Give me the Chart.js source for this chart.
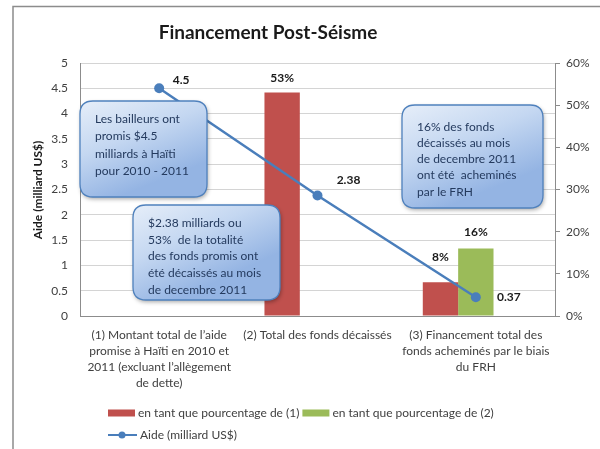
<!DOCTYPE html>
<html>
<head>
<meta charset="utf-8">
<script src="https://cdn.jsdelivr.net/npm/chart.js@4"></script>
<style>
  html, body { margin: 0; padding: 0; background: #fff; }
  #wrap { width: 600px; height: 449px; position: relative; }
</style>
</head>
<body>
<div id="wrap"><canvas id="chart" width="600" height="449"></canvas></div>
<script>
// ---- data ----
const categories = [
  ["(1) Montant total de l’aide", "promise à Haïti en 2010 et", "2011 (excluant l’allègement", "de dette)"],
  ["(2) Total des fonds décaissés"],
  ["(3) Financement total des", "fonds acheminés par le biais", "du FRH"]
];
const aideValues = [4.5, 2.38, 0.37];        // milliard US$
const pctOfPromised = [null, 53, 8];         // % de (1)
const pctOfDisbursed = [null, null, 16];     // % de (2)
const emptySlot = [null, null, null];        // third (empty) bar slot of the group
const aideTicks = { min: 0, max: 5, step: 0.5 };
const pctTicks = { min: 0, max: 60, step: 10 };

const seriesNames = ["en tant que pourcentage de (1)", "en tant que pourcentage de (2)", "Aide (milliard US$)"];
const chartTitle = "Financement Post-Séisme";
const yTitle = "Aide (milliard US$)";

const callouts = [
  ["Les bailleurs ont", "promis $4.5", "milliards à Haïti", "pour 2010 - 2011"],
  ["$2.38 milliards ou", "53%  de la totalité", "des fonds promis ont", "été décaissés au mois", "de decembre 2011"],
  ["16% des fonds", "décaissés au mois", "de decembre 2011", "ont été  acheminés", "par le FRH"]
];

const RED = "#c0504d", GREEN = "#9bbb59", BLUE = "#4a7ebb";
const FONT = "Lato, 'Open Sans', sans-serif";
const TXT = "#404040";

// ---- helpers ----
function roundRect(ctx, x, y, w, h, r) {
  ctx.beginPath();
  ctx.moveTo(x + r, y);
  ctx.lineTo(x + w - r, y);
  ctx.quadraticCurveTo(x + w, y, x + w, y + r);
  ctx.lineTo(x + w, y + h - r);
  ctx.quadraticCurveTo(x + w, y + h, x + w - r, y + h);
  ctx.lineTo(x + r, y + h);
  ctx.quadraticCurveTo(x, y + h, x, y + h - r);
  ctx.lineTo(x, y + r);
  ctx.quadraticCurveTo(x, y, x + r, y);
  ctx.closePath();
}

// ---- frame, title, axis title ----
const backdrop = {
  id: "backdrop",
  beforeDraw(chart) {
    const ctx = chart.ctx;
    ctx.save();
    ctx.fillStyle = "#fff";
    ctx.fillRect(0, 0, chart.width, chart.height);
    ctx.strokeStyle = "#8c8c8c";
    ctx.lineWidth = 1.5;
    ctx.beginPath();
    ctx.moveTo(13, chart.height);
    ctx.lineTo(13, 6.5);
    ctx.lineTo(chart.width, 6.5);
    ctx.stroke();
    ctx.restore();
  },
  afterDraw(chart) {
    const ctx = chart.ctx;
    ctx.save();
    ctx.fillStyle = "#1a1a1a";
    ctx.font = "bold 19px " + FONT;
    ctx.textAlign = "center";
    ctx.textBaseline = "middle";
    ctx.fillText(chartTitle, 268, 33);

    ctx.translate(38, 190);
    ctx.rotate(-Math.PI / 2);
    ctx.font = "bold 12px " + FONT;
    ctx.fillStyle = "#1a1a1a";
    ctx.fillText(yTitle, 0, 0);
    ctx.restore();
  }
};

// ---- value labels ----
const valueLabels = {
  id: "valueLabels",
  afterDatasetsDraw(chart) {
    const ctx = chart.ctx;
    ctx.save();
    ctx.font = "bold 12px " + FONT;
    ctx.fillStyle = "#1a1a1a";
    ctx.textAlign = "center";
    ctx.textBaseline = "middle";
    // bars
    const barOffsets = [[0, -14, -25], [0, 0, -16]];
    [1, 2].forEach((di, k) => {
      const meta = chart.getDatasetMeta(di);
      chart.data.datasets[di].data.forEach((v, i) => {
        if (v == null) return;
        const el = meta.data[i];
        ctx.fillText(v + "%", el.x, el.y + barOffsets[k][i]);
      });
    });
    // line points
    const lineOffsets = [[22, -8], [31, -15], [33, 0]];
    const meta = chart.getDatasetMeta(0);
    chart.data.datasets[0].data.forEach((v, i) => {
      const el = meta.data[i];
      ctx.fillText(String(v), el.x + lineOffsets[i][0], el.y + lineOffsets[i][1]);
    });
    ctx.restore();
  }
};

// ---- callout boxes ----
const calloutBoxes = {
  id: "calloutBoxes",
  afterDatasetsDraw(chart) {
    const ctx = chart.ctx;
    const boxes = [
      { x: 80, y: 101, w: 127, h: 96, tx: 95, ty: 119, lh: 17.5 },
      { x: 133, y: 205, w: 147, h: 95, tx: 148, ty: 223, lh: 16.8 },
      { x: 402, y: 105, w: 141, h: 103, tx: 417, ty: 127, lh: 16.2 }
    ];
    boxes.forEach((b, i) => {
      ctx.save();
      ctx.shadowColor = "rgba(0,0,0,0.35)";
      ctx.shadowBlur = 4;
      ctx.shadowOffsetX = 1;
      ctx.shadowOffsetY = 2;
      const g = ctx.createLinearGradient(b.x, b.y, b.x + b.w * 0.3, b.y + b.h);
      g.addColorStop(0, "#e6eef9");
      g.addColorStop(0.5, "#c4d7f1");
      g.addColorStop(1, "#94b4e3");
      roundRect(ctx, b.x, b.y, b.w, b.h, 13);
      ctx.fillStyle = g;
      ctx.fill();
      ctx.shadowColor = "transparent";
      ctx.strokeStyle = "#4f81bd";
      ctx.lineWidth = 1.3;
      ctx.stroke();
      ctx.fillStyle = "#243a5e";
      ctx.font = "12px " + FONT;
      ctx.textAlign = "left";
      ctx.textBaseline = "middle";
      callouts[i].forEach((line, j) => ctx.fillText(line, b.tx, b.ty + j * b.lh));
      ctx.restore();
    });
  }
};

// ---- legend ----
const legendBox = {
  id: "legendBox",
  afterDraw(chart) {
    const ctx = chart.ctx;
    const ds = chart.data.datasets;
    ctx.save();
    ctx.font = "12px " + FONT;
    ctx.fillStyle = TXT;
    ctx.textAlign = "left";
    ctx.textBaseline = "middle";
    let x = 108;
    const y1 = 413;
    [1, 2].forEach(di => {
      ctx.fillStyle = ds[di].backgroundColor;
      ctx.fillRect(x, y1 - 3.5, 27, 7);
      ctx.fillStyle = TXT;
      ctx.fillText(ds[di].label, x + 30, y1);
      x += 30 + ctx.measureText(ds[di].label).width + 3;
    });
    const y2 = 435;
    ctx.strokeStyle = ds[0].borderColor;
    ctx.lineWidth = 2;
    ctx.beginPath();
    ctx.moveTo(108, y2);
    ctx.lineTo(137, y2);
    ctx.stroke();
    ctx.fillStyle = ds[0].borderColor;
    ctx.beginPath();
    ctx.arc(122, y2, 3.5, 0, Math.PI * 2);
    ctx.fill();
    ctx.fillStyle = TXT;
    ctx.fillText(ds[0].label, 140, y2);
    ctx.restore();
  }
};

new Chart(document.getElementById("chart"), {
  type: "bar",
  data: {
    labels: categories,
    datasets: [
      {
        type: "line",
        label: seriesNames[2],
        data: aideValues,
        yAxisID: "y",
        borderColor: BLUE,
        backgroundColor: BLUE,
        borderWidth: 2.5,
        pointRadius: 5,
        pointBackgroundColor: BLUE,
        pointBorderWidth: 0,
        order: 0
      },
      {
        label: seriesNames[0],
        data: pctOfPromised,
        yAxisID: "y2",
        backgroundColor: RED,
        order: 1
      },
      {
        label: seriesNames[1],
        data: pctOfDisbursed,
        yAxisID: "y2",
        backgroundColor: GREEN,
        order: 1
      },
      {
        label: "",
        data: emptySlot,
        yAxisID: "y2",
        backgroundColor: "transparent",
        order: 1
      }
    ]
  },
  options: {
    responsive: false,
    animation: false,
    categoryPercentage: 0.67,
    barPercentage: 1,
    layout: { padding: { top: 63, left: 0, right: 0, bottom: 0 } },
    plugins: {
      legend: { display: false },
      tooltip: { enabled: false },
      title: { display: false }
    },
    scales: {
      x: {
        offset: true,
        grid: { display: false },
        border: { display: true, color: "#8c8c8c" },
        ticks: {
          color: TXT,
          font: { family: FONT, size: 12, lineHeight: 1.33 },
          padding: 3,
          maxRotation: 0,
          autoSkip: false
        },
        afterFit(scale) { scale.height = 133; }
      },
      y: {
        position: "left",
        min: aideTicks.min,
        max: aideTicks.max,
        ticks: {
          stepSize: aideTicks.step,
          color: TXT,
          font: { family: FONT, size: 12 },
          padding: 12,
          callback: v => String(v)
        },
        grid: { color: "#d4d4d4", drawTicks: false },
        border: { display: true, color: "#8c8c8c" },
        afterFit(scale) { scale.width = 80; }
      },
      y2: {
        position: "right",
        min: pctTicks.min,
        max: pctTicks.max,
        ticks: {
          stepSize: pctTicks.step,
          color: TXT,
          font: { family: FONT, size: 12 },
          padding: 6,
          callback: v => v + "%"
        },
        grid: { drawOnChartArea: false, color: "#8c8c8c", tickLength: 5 },
        border: { display: true, color: "#8c8c8c" },
        afterFit(scale) { scale.width = 45; }
      }
    }
  },
  plugins: [backdrop, calloutBoxes, valueLabels, legendBox]
});
</script>
</body>
</html>
